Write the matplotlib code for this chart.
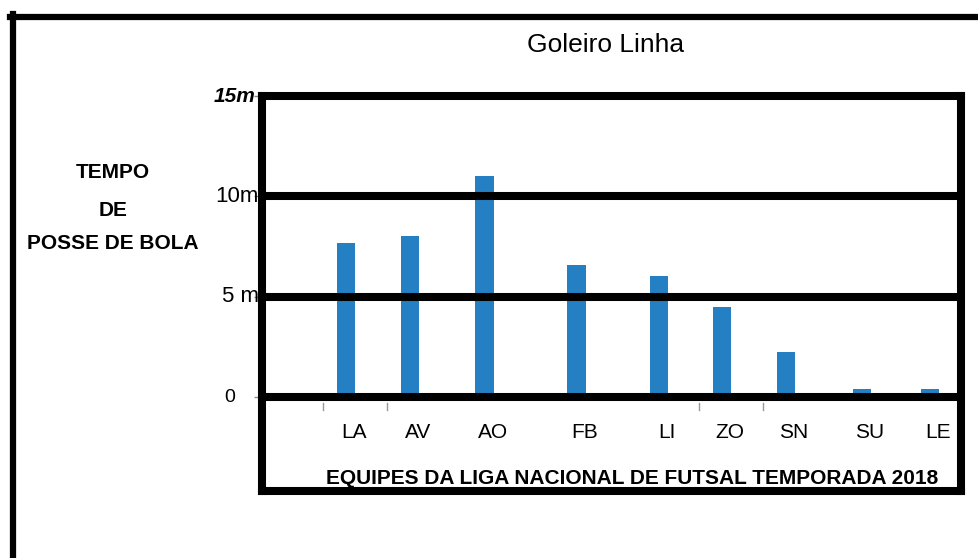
import matplotlib
matplotlib.use('Agg')
import matplotlib.pyplot as plt
from matplotlib.lines import Line2D

# data (minutes of ball possession)
teams = ['LA', 'AV', 'AO', 'FB', 'LI', 'ZO', 'SN', 'SU', 'LE']
tempo = [7.7, 8.0, 11.0, 6.6, 6.05, 4.5, 2.25, 0.4, 0.4]
ytick_vals = [0, 5, 10, 15]
ytick_labels = ['0', '5 m', '10m', '15m']

# irregular spacing of the bars in the original drawing
slots = [1.0, 1.88, 2.9, 4.16, 5.29, 6.15, 7.03, 8.07, 9.0]

plt.rcParams['font.family'] = ['Liberation Sans', 'DejaVu Sans']

W, H = 979, 558
fig = plt.figure(figsize=(W / 100, H / 100), dpi=100)
ax = fig.add_axes([262 / W, (H - 491) / H, (961 - 262) / W, (491 - 96) / H])

ax.bar(slots, tempo, width=0.25, color='#2480c2', zorder=2)
for y in ytick_vals[:3]:
    ax.axhline(y, color='black', lw=5.8, zorder=3)

ax.set_xlim(-0.15, 9.43)
ax.set_ylim(-4.68, 15)
for s in ax.spines.values():
    s.set_linewidth(5.8)
    s.set_color('black')
    s.set_zorder(4)

ax.set_xticks([])
ax.set_yticks(ytick_vals)
ax.set_yticklabels([])
ax.tick_params(axis='y', length=6, width=1, color='#888888', direction='out')

# small gray marks under the zero line
for i in [0, 1, 5, 6]:
    ax.plot([slots[i] - 0.31] * 2, [-0.3, -0.65], color='#999999', lw=1, zorder=1)

# y labels drawn one by one, as in the original
ypos = {'0': (-0.038, 'normal', 'normal', 14),
        '5 m': (-0.005, 'normal', 'normal', 16),
        '10m': (-0.005, 'normal', 'normal', 16),
        '15m': (-0.010, 'bold', 'italic', 15)}
for v, lab in zip(ytick_vals, ytick_labels):
    dx, fw, fs, sz = ypos[lab]
    ax.text(dx, v, lab, transform=ax.get_yaxis_transform(), ha='right', va='center',
            fontsize=sz, fontweight=fw, fontstyle=fs)

for s, lab in zip(slots, teams):
    ax.text(s + 0.11, -1.78, lab, ha='center', va='center', fontsize=15)

fig.text(632 / W, 1 - 484 / H, 'EQUIPES DA LIGA NACIONAL DE FUTSAL TEMPORADA 2018',
         ha='center', va='baseline', fontsize=15, fontweight='bold')

fig.text(606 / W, 1 - 45 / H, 'Goleiro Linha', ha='center', va='center', fontsize=19)

for txt, yy in [('TEMPO', 172), ('DE', 211), ('POSSE DE BOLA', 243)]:
    fig.text(113 / W, 1 - yy / H, txt, ha='center', va='center',
             fontsize=15, fontweight='bold')

# outer frame (only top and left edges fall inside the picture)
fig.add_artist(Line2D([10 / W, 1.0], [1 - 17 / H, 1 - 17 / H], color='black', lw=4.5))
fig.add_artist(Line2D([13 / W, 13 / W], [0.0, 1 - 14 / H], color='black', lw=4.5))

fig.savefig('out.png', dpi=100)
